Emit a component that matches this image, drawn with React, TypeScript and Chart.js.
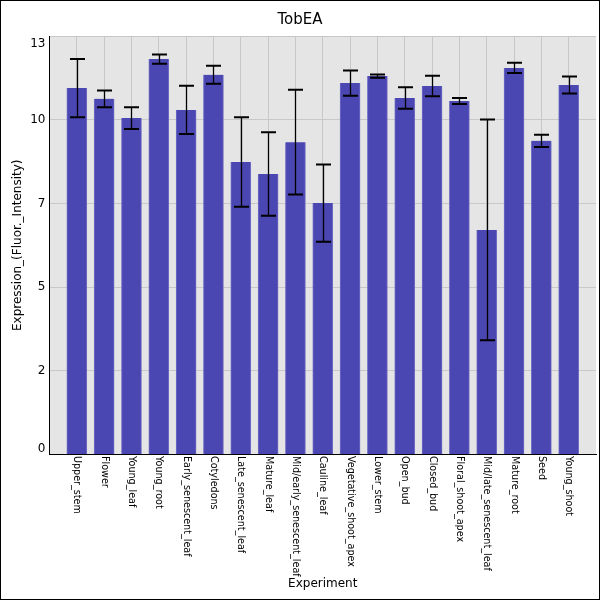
import React, { useEffect, useRef } from "react";
import { Chart, registerables } from "chart.js";

Chart.register(...registerables);

const categories = [
  "Upper_stem",
  "Flower",
  "Young_leaf",
  "Young_root",
  "Early_senescent_leaf",
  "Cotyledons",
  "Late_senescent_leaf",
  "Mature_leaf",
  "Mid/early_senescent_leaf",
  "Cauline_leaf",
  "Vegetative_shoot_apex",
  "Lower_stem",
  "Open_bud",
  "Closed_bud",
  "Floral_shoot_apex",
  "Mid/late_senescent_leaf",
  "Mature_root",
  "Seed",
  "Young_shoot",
];

const values = [
  11.6, 11.26, 10.65, 12.52, 10.91, 12.02, 9.26, 8.88, 9.89, 7.96, 11.76, 11.98,
  11.29, 11.67, 11.19, 7.11, 12.24, 9.93, 11.7,
];

const errors = [
  0.925, 0.265, 0.345, 0.145, 0.765, 0.285, 1.42, 1.32, 1.655, 1.225, 0.4, 0.055,
  0.34, 0.325, 0.095, 3.495, 0.16, 0.195, 0.27,
];

const yTickValues = [0, 2.65, 5.3, 7.95, 10.6, 13.25];
const yTickLabels = ["0", "2", "5", "7", "10", "13"];

const FONT = "'DejaVu Sans', sans-serif";

const plotBackground = {
  id: "plotBackground",
  beforeDraw(chart: any) {
    const { ctx, chartArea } = chart;
    ctx.save();
    ctx.fillStyle = "#e5e5e5";
    ctx.fillRect(chartArea.left, chartArea.top, chartArea.width, chartArea.height);
    ctx.restore();
  },
};

const errorBars = {
  id: "errorBars",
  afterDatasetsDraw(chart: any) {
    const { ctx } = chart;
    const xs = chart.scales.x;
    const ys = chart.scales.y;
    ctx.save();
    ctx.strokeStyle = "#000";
    values.forEach((v, i) => {
      const x = Math.round(xs.getPixelForValue(i + 1)) + 0.5;
      const hi = ys.getPixelForValue(v + errors[i]);
      const lo = ys.getPixelForValue(v - errors[i]);
      ctx.lineWidth = 1.3;
      ctx.beginPath();
      ctx.moveTo(x, hi);
      ctx.lineTo(x, lo);
      ctx.stroke();
      ctx.lineWidth = 2;
      ctx.beginPath();
      ctx.moveTo(x - 7.5, hi);
      ctx.lineTo(x + 7.5, hi);
      ctx.moveTo(x - 7.5, lo);
      ctx.lineTo(x + 7.5, lo);
      ctx.stroke();
    });
    ctx.restore();
  },
};

const labels = {
  id: "labels",
  afterDraw(chart: any) {
    const { ctx, chartArea } = chart;
    const xs = chart.scales.x;
    const ys = chart.scales.y;
    ctx.save();
    ctx.fillStyle = "#000";

    // category labels, reading downward
    ctx.font = `9.6px ${FONT}`;
    ctx.textAlign = "left";
    ctx.textBaseline = "middle";
    categories.forEach((c, i) => {
      ctx.save();
      ctx.translate(xs.getPixelForValue(i + 1), chartArea.bottom + 1.5);
      ctx.rotate(Math.PI / 2);
      ctx.fillText(c, 0, 0);
      ctx.restore();
    });

    // y tick labels
    ctx.font = `12px ${FONT}`;
    ctx.textAlign = "right";
    yTickValues.forEach((t, i) => {
      let y = ys.getPixelForValue(t);
      y = Math.min(Math.max(y, chartArea.top + 8), chartArea.bottom - 6);
      ctx.fillText(yTickLabels[i], chartArea.left - 4, y);
    });

    // titles
    ctx.textAlign = "center";
    ctx.font = `15px ${FONT}`;
    ctx.fillText("TobEA", 299, 19);
    ctx.font = `12px ${FONT}`;
    ctx.fillText("Experiment", (chartArea.left + chartArea.right) / 2, 583);
    ctx.save();
    ctx.translate(17, (chartArea.top + chartArea.bottom) / 2);
    ctx.rotate(-Math.PI / 2);
    ctx.fillText("Expression_(Fluor._Intensity)", 0, 0);
    ctx.restore();

    ctx.restore();
  },
};

const App = () => {
  const chartRef = useRef<HTMLCanvasElement | null>(null);

  useEffect(() => {
    if (!chartRef.current) return;
    const chart = new Chart(chartRef.current, {
      type: "bar",
      data: {
        datasets: [
          {
            data: values.map((v, i) => ({ x: i + 1, y: v })) as any,
            backgroundColor: "#4a46b2",
            borderColor: "#6f6cc4",
            borderWidth: { left: 1, right: 1, top: 0, bottom: 0 } as any,
            barThickness: 20,
          },
        ],
      },
      options: {
        animation: false,
        responsive: false,
        devicePixelRatio: 1,
        layout: { padding: { top: 35, right: 3, left: 0, bottom: 0 } },
        plugins: {
          legend: { display: false },
          tooltip: { enabled: false },
          title: { display: false },
        },
        scales: {
          x: {
            type: "linear",
            offset: false,
            min: 0,
            max: 20,
            ticks: { display: false, stepSize: 1 },
            grid: {
              offset: false,
              drawTicks: false,
              color: (c: any) =>
                c.tick && c.tick.value > 0 && c.tick.value < 20 ? "#c8c8c8" : "rgba(0,0,0,0)",
            },
            border: { color: "#000", width: 1 },
            afterFit: (s: any) => {
              s.height = 144.5;
            },
          },
          y: {
            min: 0,
            max: 13.25,
            afterBuildTicks: (s: any) => {
              s.ticks = yTickValues.map((v) => ({ value: v }));
            },
            ticks: { display: false },
            grid: { drawTicks: false, color: "#c8c8c8" },
            border: { color: "#000", width: 1 },
            afterFit: (s: any) => {
              s.width = 48.5;
            },
          },
        },
      },
      plugins: [plotBackground, errorBars, labels],
    });
    return () => {
      chart.destroy();
    };
  }, []);

  return (
    <div
      style={{
        position: "absolute",
        left: 0,
        top: 0,
        width: 600,
        height: 600,
        border: "1px solid #000",
        boxSizing: "border-box",
        background: "#fff",
      }}
    >
      <canvas ref={chartRef} width={598} height={598} style={{ display: "block" }} />
    </div>
  );
};

export default App;
